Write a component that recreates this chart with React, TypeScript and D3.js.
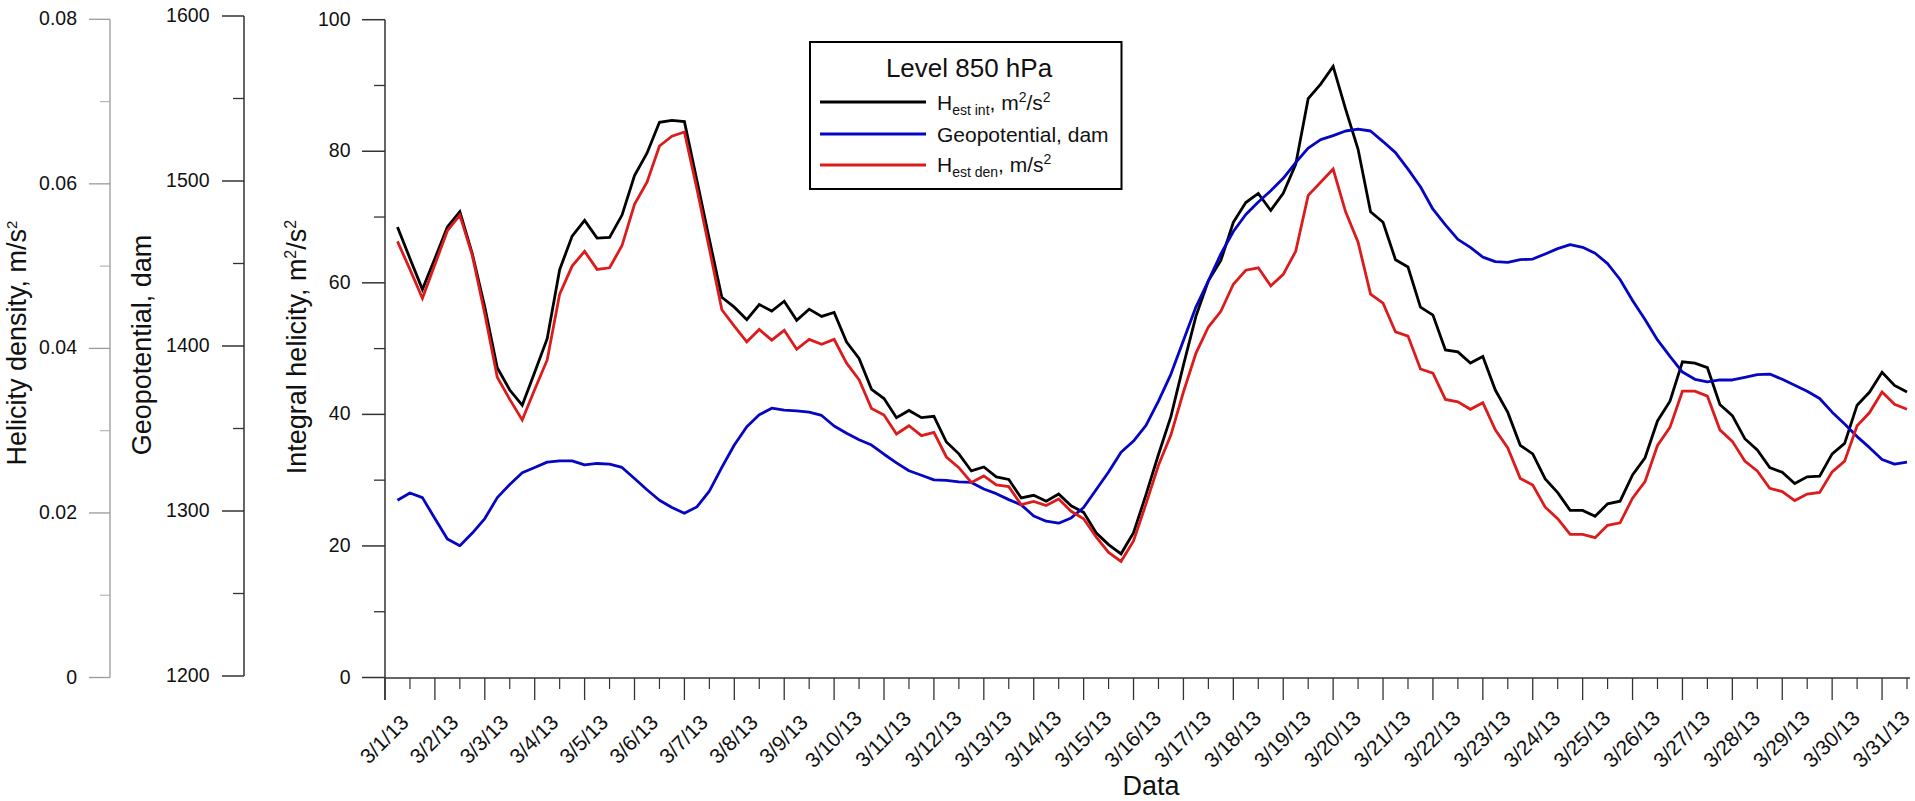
import React from 'react';
import * as d3 from 'd3';

const W = 1915;
const H = 801;
const FONT = '"Liberation Sans", Arial, sans-serif';

// x categories: one label per day, data every 6 hours starting 3/1 06:00 UTC
const dayLabels = [
  '3/1/13', '3/2/13', '3/3/13', '3/4/13', '3/5/13', '3/6/13', '3/7/13', '3/8/13',
  '3/9/13', '3/10/13', '3/11/13', '3/12/13', '3/13/13', '3/14/13', '3/15/13', '3/16/13',
  '3/17/13', '3/18/13', '3/19/13', '3/20/13', '3/21/13', '3/22/13', '3/23/13', '3/24/13',
  '3/25/13', '3/26/13', '3/27/13', '3/28/13', '3/29/13', '3/30/13', '3/31/13',
];
const firstObs = Date.UTC(2013, 2, 1, 6);
const stepHours = 6;

// H est int, m2/s2 (integral helicity axis)
const hInt = [
  68.5, 63.7, 59.0, 63.7, 68.5, 70.8, 64.4, 56.3, 47.1, 43.7, 41.4, 46.4, 51.5, 62.0, 67.1, 69.5,
  66.8, 66.9, 70.3, 76.3, 79.7, 84.4, 84.7, 84.5, 75.6, 66.6, 57.8, 56.3, 54.4, 56.7, 55.7, 57.2,
  54.3, 56.0, 54.9, 55.5, 51.0, 48.5, 43.8, 42.4, 39.5, 40.6, 39.5, 39.7, 35.8, 34.0, 31.4, 32.0,
  30.5, 30.1, 27.3, 27.7, 26.8, 27.9, 26.1, 25.1, 22.0, 20.2, 18.8, 22.0, 27.8, 33.9, 39.7, 47.5,
  54.9, 60.3, 63.4, 69.2, 72.2, 73.6, 71.0, 73.6, 78.0, 88.0, 90.2, 92.9, 86.4, 80.3, 70.8, 69.2,
  63.5, 62.4, 56.3, 55.1, 49.8, 49.5, 47.8, 48.8, 43.7, 40.3, 35.3, 34.0, 30.2, 28.1, 25.4, 25.4,
  24.5, 26.4, 26.8, 30.8, 33.4, 39.0, 42.0, 48.0, 47.8, 47.1, 41.5, 39.8, 36.3, 34.6, 31.9, 31.2,
  29.5, 30.5, 30.6, 34.0, 35.6, 41.4, 43.4, 46.4, 44.4, 43.4,
];

// Geopotential, dam
const geopotential = [
  1306.5, 1310.9, 1308.1, 1295.4, 1283.0, 1279.0, 1286.6, 1295.4, 1308.1, 1316.1, 1323.2, 1326.4,
  1329.6, 1330.4, 1330.4, 1328.0, 1328.8, 1328.4, 1326.4, 1319.7, 1312.9, 1306.5, 1302.1, 1298.6,
  1302.5, 1312.1, 1326.4, 1340.0, 1351.1, 1358.3, 1362.3, 1361.1, 1360.7, 1359.9, 1357.9, 1351.5,
  1347.1, 1343.2, 1340.0, 1334.4, 1329.2, 1324.4, 1321.7, 1318.9, 1318.5, 1317.7, 1317.3, 1313.3,
  1310.5, 1306.9, 1303.7, 1297.0, 1293.8, 1292.6, 1295.8, 1302.1, 1312.9, 1323.6, 1335.6, 1342.4,
  1351.9, 1366.6, 1383.0, 1403.3, 1423.6, 1439.5, 1455.8, 1469.4, 1479.7, 1487.3, 1494.1, 1501.6,
  1511.2, 1519.9, 1525.1, 1527.5, 1530.3, 1531.5, 1530.3, 1523.9, 1517.2, 1507.2, 1496.5, 1482.9,
  1473.4, 1464.6, 1459.8, 1453.9, 1451.1, 1450.7, 1452.3, 1452.7, 1455.8, 1459.0, 1461.4, 1459.8,
  1456.2, 1449.9, 1440.3, 1427.6, 1416.0, 1403.7, 1393.7, 1384.2, 1379.8, 1378.2, 1379.4, 1379.4,
  1381.0, 1382.6, 1383.0, 1379.8, 1376.2, 1372.6, 1368.2, 1359.9, 1352.7, 1345.1, 1338.4, 1331.2,
  1328.4, 1329.6,
];

// H est den, m/s2 (helicity density axis)
const hDen = [
  0.0530, 0.0496, 0.0461, 0.0502, 0.0543, 0.0562, 0.0513, 0.0442, 0.0365, 0.0338, 0.0313, 0.0350,
  0.0386, 0.0466, 0.0500, 0.0518, 0.0496, 0.0498, 0.0525, 0.0575, 0.0602, 0.0646, 0.0658, 0.0663,
  0.0594, 0.0521, 0.0447, 0.0427, 0.0408, 0.0423, 0.0410, 0.0422, 0.0399, 0.0411, 0.0405, 0.0411,
  0.0382, 0.0362, 0.0327, 0.0319, 0.0296, 0.0306, 0.0294, 0.0298, 0.0268, 0.0255, 0.0237, 0.0245,
  0.0234, 0.0232, 0.0210, 0.0214, 0.0209, 0.0217, 0.0202, 0.0193, 0.0171, 0.0152, 0.0141, 0.0166,
  0.0211, 0.0258, 0.0295, 0.0347, 0.0394, 0.0426, 0.0445, 0.0478, 0.0495, 0.0498, 0.0476, 0.0490,
  0.0518, 0.0586, 0.0602, 0.0618, 0.0566, 0.0529, 0.0466, 0.0455, 0.0420, 0.0415, 0.0375, 0.0370,
  0.0338, 0.0335, 0.0326, 0.0334, 0.0301, 0.0279, 0.0242, 0.0234, 0.0207, 0.0193, 0.0174, 0.0174,
  0.0170, 0.0185, 0.0188, 0.0218, 0.0238, 0.0282, 0.0304, 0.0348, 0.0348, 0.0342, 0.0301, 0.0287,
  0.0263, 0.0251, 0.0230, 0.0226, 0.0215, 0.0223, 0.0225, 0.0250, 0.0263, 0.0306, 0.0322, 0.0347,
  0.0332, 0.0326,
];

const densityTicks = [0, 0.02, 0.04, 0.06, 0.08];
const densityMinor = [0.01, 0.03, 0.05, 0.07];
const geoTicks = [1200, 1300, 1400, 1500, 1600];
const geoMinor = [1250, 1350, 1450, 1550];
const intTicks = [0, 20, 40, 60, 80, 100];
const intMinor = [10, 30, 50, 70, 90];

const BLACK = '#000000';
const BLUE = '#0505c4';
const RED = '#dc1c1c';

export default function App() {
  const x = d3.scaleUtc()
    .domain([new Date(Date.UTC(2013, 2, 1)), new Date(Date.UTC(2013, 2, 31, 12))])
    .range([385, 1907]);
  const yInt = d3.scaleLinear().domain([0, 100]).range([677.5, 19.7]);
  const yGeo = d3.scaleLinear().domain([1200, 1600]).range([676, 16]);
  const yDen = d3.scaleLinear().domain([0, 0.08]).range([677.5, 19.3]);

  const times = hInt.map((_, i) => new Date(firstObs + i * stepHours * 3600e3));
  const days = d3.utcDay.range(new Date(Date.UTC(2013, 2, 1)), new Date(Date.UTC(2013, 2, 31, 1)));
  const halfDays = days.map((d) => d3.utcHour.offset(d, 12));

  const lineInt = d3.line<number>().x((_, i) => x(times[i])).y((d) => yInt(d));
  const lineGeo = d3.line<number>().x((_, i) => x(times[i])).y((d) => yGeo(d));
  const lineDen = d3.line<number>().x((_, i) => x(times[i])).y((d) => yDen(d));

  const axisY = 678;
  const tickFont = 19.5;
  const titleFont = 27;

  return (
    <svg
      width={W}
      height={H}
      style={{ position: 'absolute', left: 0, top: 0, display: 'block', background: '#fff' }}
      fontFamily={FONT}
    >
      {/* helicity density axis (grey) */}
      <g>
        <line x1={110} x2={110} y1={yDen(0.08)} y2={yDen(0)} stroke="#9a9a9a" strokeWidth={1.3} />
        {densityTicks.map((t) => (
          <g key={t}>
            <line x1={89} x2={110} y1={yDen(t)} y2={yDen(t)} stroke="#9a9a9a" strokeWidth={1.3} />
            <text x={77} y={yDen(t) - 1} textAnchor="end" dominantBaseline="central" fontSize={tickFont} fill="#111">
              {t === 0 ? '0' : t.toFixed(2)}
            </text>
          </g>
        ))}
        {densityMinor.map((t) => (
          <line key={t} x1={100} x2={110} y1={yDen(t)} y2={yDen(t)} stroke="#b5b5b5" strokeWidth={1.2} />
        ))}
        <text transform="translate(25.5,343) rotate(-90)" textAnchor="middle" fontSize={titleFont} fill="#111">
          Helicity density, m/s<tspan fontSize={15} dy={-9}>2</tspan>
        </text>
      </g>

      {/* geopotential axis */}
      <g>
        <line x1={244} x2={244} y1={yGeo(1600)} y2={yGeo(1200)} stroke="#333" strokeWidth={1.5} />
        {geoTicks.map((t) => (
          <g key={t}>
            <line x1={222} x2={244} y1={yGeo(t)} y2={yGeo(t)} stroke="#333" strokeWidth={1.5} />
            <text x={209.5} y={yGeo(t) - 1} textAnchor="end" dominantBaseline="central" fontSize={tickFont} fill="#111">
              {t}
            </text>
          </g>
        ))}
        {geoMinor.map((t) => (
          <line key={t} x1={233} x2={244} y1={yGeo(t)} y2={yGeo(t)} stroke="#333" strokeWidth={1.3} />
        ))}
        <text transform="translate(151,345) rotate(-90)" textAnchor="middle" fontSize={titleFont} fill="#111">
          Geopotential, dam
        </text>
      </g>

      {/* integral helicity axis */}
      <g>
        <line x1={385} x2={385} y1={yInt(100)} y2={700} stroke="#333" strokeWidth={1.5} />
        {intTicks.map((t) => (
          <g key={t}>
            <line x1={362} x2={385} y1={yInt(t)} y2={yInt(t)} stroke="#333" strokeWidth={1.5} />
            <text x={350.5} y={yInt(t) - 1} textAnchor="end" dominantBaseline="central" fontSize={tickFont} fill="#111">
              {t}
            </text>
          </g>
        ))}
        {intMinor.map((t) => (
          <line key={t} x1={374} x2={385} y1={yInt(t)} y2={yInt(t)} stroke="#333" strokeWidth={1.3} />
        ))}
        <text transform="translate(306,347) rotate(-90)" textAnchor="middle" fontSize={titleFont} fill="#111">
          Integral helicity, m<tspan fontSize={16} dy={-10}>2</tspan>
          <tspan dy={10}>/s</tspan>
          <tspan fontSize={16} dy={-10}>2</tspan>
        </text>
      </g>

      {/* x axis */}
      <g>
        <line x1={385} x2={1910} y1={axisY} y2={axisY} stroke="#333" strokeWidth={1.5} />
        {days.map((d, i) => (
          <g key={i}>
            <line x1={x(d)} x2={x(d)} y1={axisY} y2={700} stroke="#333" strokeWidth={1.3} />
            <text
              transform={`translate(${x(d) - 1},739) rotate(-45)`}
              textAnchor="middle"
              dominantBaseline="central"
              fontSize={21}
              fill="#111"
            >
              {dayLabels[i]}
            </text>
          </g>
        ))}
        {halfDays.map((d, i) => (
          <line key={i} x1={x(d)} x2={x(d)} y1={axisY} y2={689} stroke="#333" strokeWidth={1.2} />
        ))}
        <text x={1151} y={795} textAnchor="middle" fontSize={titleFont} fill="#111">Data</text>
      </g>

      {/* series */}
      <path d={lineInt(hInt) ?? ''} fill="none" stroke={BLACK} strokeWidth={2.8} strokeLinejoin="miter" />
      <path d={lineGeo(geopotential) ?? ''} fill="none" stroke={BLUE} strokeWidth={2.8} strokeLinejoin="round" />
      <path d={lineDen(hDen) ?? ''} fill="none" stroke={RED} strokeWidth={2.8} strokeLinejoin="miter" />

      {/* legend */}
      <g>
        <rect x={810} y={42} width={311.5} height={147} fill="#fff" stroke="#000" strokeWidth={2} />
        <text x={969} y={77} textAnchor="middle" fontSize={26} fill="#111">Level 850 hPa</text>
        <line x1={820} x2={926} y1={102} y2={102} stroke={BLACK} strokeWidth={2.8} />
        <text x={937} y={110} fontSize={21} fill="#111">
          H<tspan fontSize={14} dy={5}>est int</tspan><tspan dy={-5}>, m</tspan>
          <tspan fontSize={14} dy={-8}>2</tspan><tspan dy={8}>/s</tspan><tspan fontSize={14} dy={-8}>2</tspan>
        </text>
        <line x1={820} x2={926} y1={134} y2={134} stroke={BLUE} strokeWidth={2.8} />
        <text x={937} y={142} fontSize={21} fill="#111">Geopotential, dam</text>
        <line x1={820} x2={926} y1={165} y2={165} stroke={RED} strokeWidth={2.8} />
        <text x={937} y={172} fontSize={21} fill="#111">
          H<tspan fontSize={14} dy={5}>est den</tspan><tspan dy={-5}>, m/s</tspan>
          <tspan fontSize={14} dy={-8}>2</tspan>
        </text>
      </g>
    </svg>
  );
}
